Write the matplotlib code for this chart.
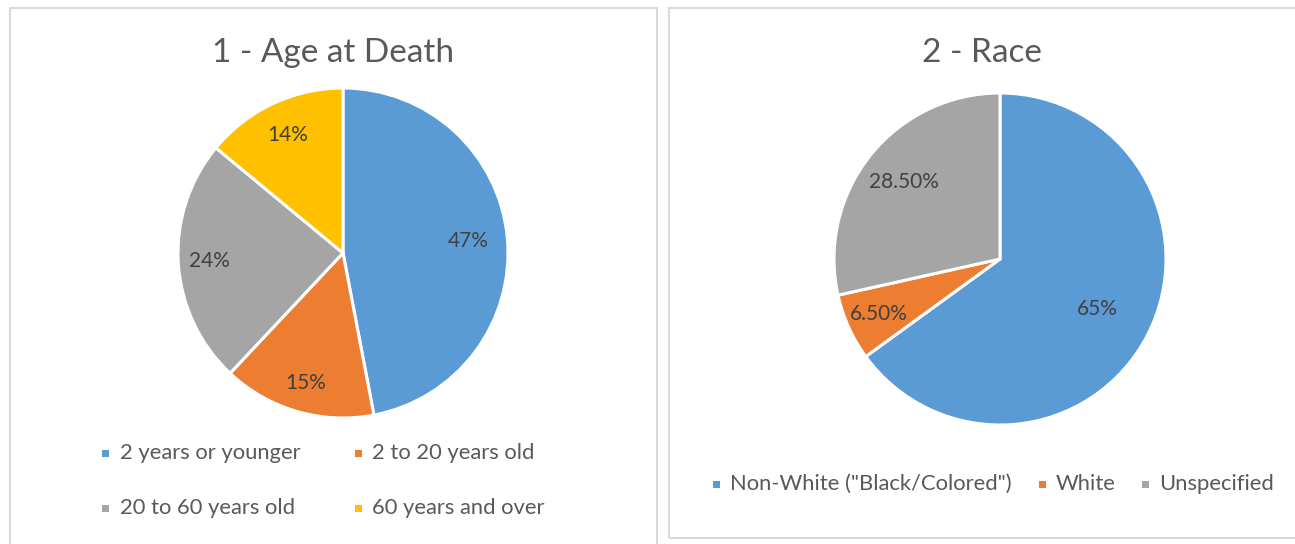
import matplotlib
matplotlib.use("Agg")
import matplotlib.pyplot as plt
from matplotlib.patches import Rectangle
import numpy as np

# ---- data ----
age_labels = ["2 years or younger", "2 to 20 years old", "20 to 60 years old", "60 years and over"]
age_values = [47, 15, 24, 14]
age_texts = ["47%", "15%", "24%", "14%"]

race_labels = ['Non-White ("Black/Colored")', "White", "Unspecified"]
race_values = [65, 6.5, 28.5]
race_texts = ["65%", "6.50%", "28.50%"]

colors4 = ["#5B9BD5", "#ED7D31", "#A5A5A5", "#FFC000"]
colors3 = ["#5B9BD5", "#ED7D31", "#A5A5A5"]

W, H = 1295, 544
FONT = "Lato"
TXT = "#595959"
LBL = "#404040"

fig = plt.figure(figsize=(W / 100, H / 100), dpi=100)
fig.patch.set_facecolor("white")

def px(x, y):
    return x / W, 1 - y / H

# panel borders
for (x0, y0, x1, y1) in [(10, 8, 657, 560), (669, 8, 1300, 538)]:
    fig.patches.append(Rectangle((x0 / W, 1 - y1 / H), (x1 - x0) / W, (y1 - y0) / H,
                                 transform=fig.transFigure, fill=False,
                                 edgecolor="#D9D9D9", linewidth=1.5))

def pie_axes(cx, cy, r):
    ax = fig.add_axes([(cx - r) / W, 1 - (cy + r) / H, 2 * r / W, 2 * r / H])
    ax.axis("off")
    return ax

def draw_pie(ax, values, colors, texts, dists):
    wedges, _ = ax.pie(values, colors=colors, startangle=90, counterclock=False, radius=1,
                       wedgeprops=dict(edgecolor="white", linewidth=2.2))
    for w, t, d in zip(wedges, texts, dists):
        ang = np.deg2rad((w.theta1 + w.theta2) / 2)
        ax.text(d * np.cos(ang), d * np.sin(ang), t, ha="center", va="center",
                color=LBL, fontsize=15, family=FONT)
    ax.set_xlim(-1, 1); ax.set_ylim(-1, 1)

ax1 = pie_axes(343, 253, 165)
draw_pie(ax1, age_values, colors4, age_texts, [0.76, 0.82, 0.81, 0.79])

ax2 = pie_axes(1000, 259, 166)
draw_pie(ax2, race_values, colors3, race_texts, [0.66, 0.80, 0.74])

# titles
fig.text(*px(333, 53), "1 - Age at Death", ha="center", va="center",
         fontsize=24, color=TXT, family=FONT)
fig.text(*px(982, 53), "2 - Race", ha="center", va="center",
         fontsize=24, color=TXT, family=FONT)

# legends
def leg_item(x_marker, y, label, color):
    fig.patches.append(Rectangle(((x_marker - 3.5) / W, 1 - (y + 3.5) / H), 7 / W, 7 / H,
                                 transform=fig.transFigure, facecolor=color, edgecolor="none"))
    fig.text(*px(x_marker + 14, y), label, ha="left", va="center",
             fontsize=15.8, color=TXT, family=FONT)

leg_item(106, 453, age_labels[0], colors4[0])
leg_item(358, 453, age_labels[1], colors4[1])
leg_item(106, 508, age_labels[2], colors4[2])
leg_item(358, 508, age_labels[3], colors4[3])

leg_item(716, 484, race_labels[0], colors3[0])
leg_item(1042, 484, race_labels[1], colors3[1])
leg_item(1145, 484, race_labels[2], colors3[2])

fig.savefig("out.png", dpi=100, facecolor="white")
